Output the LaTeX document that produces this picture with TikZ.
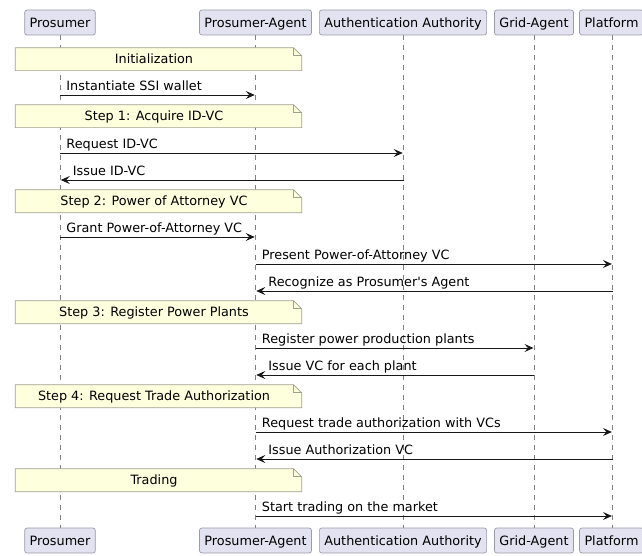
\documentclass[tikz,border=0pt]{standalone}
\usepackage{fontspec}
\setmainfont{DejaVu Sans}
\usetikzlibrary{arrows.meta}
\definecolor{ink}{HTML}{181818}
\definecolor{partfill}{HTML}{E2E2F0}
\definecolor{partline}{HTML}{9A9AAA}
\definecolor{notefill}{HTML}{FEFFDD}
\definecolor{noteline}{HTML}{A0A090}
\definecolor{lifeline}{HTML}{808080}

\tikzset{
  part/.style={draw=partline, fill=partfill, line width=0.7pt, rounded corners=2.5pt,
    minimum height=25pt, inner xsep=5pt, inner ysep=0pt, text height=9.3pt, text depth=0pt},
  life/.style={draw=lifeline, line width=0.6pt, dash pattern=on 5pt off 5pt},
  msg/.style={draw=ink, line width=0.9pt, -{Stealth[length=9pt,width=8pt,inset=3.5pt]}, shorten >=0.8pt},
  lblr/.style={anchor=base west, inner sep=0pt, xshift=6pt, yshift=4.5pt},
  lbll/.style={anchor=base west, inner sep=0pt, xshift=12.5pt, yshift=4.5pt},
  notebox/.style={minimum width=286pt, minimum height=22.5pt, inner sep=0pt},
  noteshape/.style={draw=noteline, fill=notefill, line width=0.7pt},
  notetext/.style={inner sep=0pt, text height=9.3pt, text depth=0pt},
}

% a note spanning the first two lifelines, with a folded corner
\newcommand\stepnote[3]{%
  \node[notebox] (#1) at (158.5,#2) {};
  \draw[noteshape] (#1.south west) -- (#1.north west) -- ([xshift=-8pt]#1.north east)
    -- ([yshift=-8pt]#1.north east) -- (#1.south east) -- cycle;
  \draw[noteshape, fill=none] ([xshift=-8pt]#1.north east) |- ([yshift=-8pt]#1.north east);
  \node[notetext] (#1-t) at ([xshift=-4.5pt]#1.center) {#3};
}

\begin{document}
\begin{tikzpicture}[x=1pt, y=-1pt, font=\fontsize{12.8}{15}\selectfont]
\useasboundingbox (0,0) rectangle (642,556);

% participants, top and bottom
\node[part] (pA) at (60,22.5)    {Prosumer};
\node[part] (pB) at (255.5,22.5) {Prosumer-Agent};
\node[part] (pC) at (403,22.5)   {Authentication Authority};
\node[part] (pD) at (534,22.5)   {Grid-Agent};
\node[part] (pE) at (611.5,22.5) {Platform};

\node[part] (bA) at (60,540.5)    {Prosumer};
\node[part] (bB) at (255.5,540.5) {Prosumer-Agent};
\node[part] (bC) at (403,540.5)   {Authentication Authority};
\node[part] (bD) at (534,540.5)   {Grid-Agent};
\node[part] (bE) at (611.5,540.5) {Platform};

% lifelines
\coordinate (lA) at (60,0);
\coordinate (lB) at (255.5,0);
\coordinate (lC) at (403.5,0);
\coordinate (lD) at (534.3,0);
\coordinate (lE) at (612.7,0);
\foreach \l/\t/\b in {lA/pA/bA, lB/pB/bB, lC/pC/bC, lD/pD/bD, lE/pE/bE}
  \draw[life] (\l |- \t.south) -- (\l |- \b.north);

% message rows
\coordinate (r1) at (0,95);
\coordinate (r2) at (0,153);
\coordinate (r3) at (0,180);
\coordinate (r4) at (0,237);
\coordinate (r5) at (0,264);
\coordinate (r6) at (0,291);
\coordinate (r7) at (0,348);
\coordinate (r8) at (0,375);
\coordinate (r9) at (0,432);
\coordinate (r10) at (0,459);
\coordinate (r11) at (0,516);

% Initialization
\stepnote{n0}{59.2}{Initialization}
\draw[msg] (lA |- r1) -- (lB |- r1) node[pos=0, lblr] {Instantiate SSI wallet};

% Step 1
\stepnote{n1}{116.2}{Step 1: Acquire ID-VC}
\draw[msg] (lA |- r2) -- (lC |- r2) node[pos=0, lblr] {Request ID-VC};
\draw[msg] (lC |- r3) -- (lA |- r3) node[pos=1, lbll] {Issue ID-VC};

% Step 2
\stepnote{n2}{201.2}{Step 2: Power of Attorney VC}
\draw[msg] (lA |- r4) -- (lB |- r4) node[pos=0, lblr] {Grant Power-of-Attorney VC};
\draw[msg] (lB |- r5) -- (lE |- r5) node[pos=0, lblr] {Present Power-of-Attorney VC};
\draw[msg] (lE |- r6) -- (lB |- r6) node[pos=1, lbll] {Recognize as Prosumer\textquotesingle s Agent};

% Step 3
\stepnote{n3}{312.2}{Step 3: Register Power Plants}
\draw[msg] (lB |- r7) -- (lD |- r7) node[pos=0, lblr] {Register power production plants};
\draw[msg] (lD |- r8) -- (lB |- r8) node[pos=1, lbll] {Issue VC for each plant};

% Step 4
\stepnote{n4}{396.2}{Step 4: Request Trade Authorization}
\draw[msg] (lB |- r9) -- (lE |- r9) node[pos=0, lblr] {Request trade authorization with VCs};
\draw[msg] (lE |- r10) -- (lB |- r10) node[pos=1, lbll] {Issue Authorization VC};

% Trading
\stepnote{n5}{480.2}{Trading}
\draw[msg] (lB |- r11) -- (lE |- r11) node[pos=0, lblr] {Start trading on the market};
\end{tikzpicture}
\end{document}
